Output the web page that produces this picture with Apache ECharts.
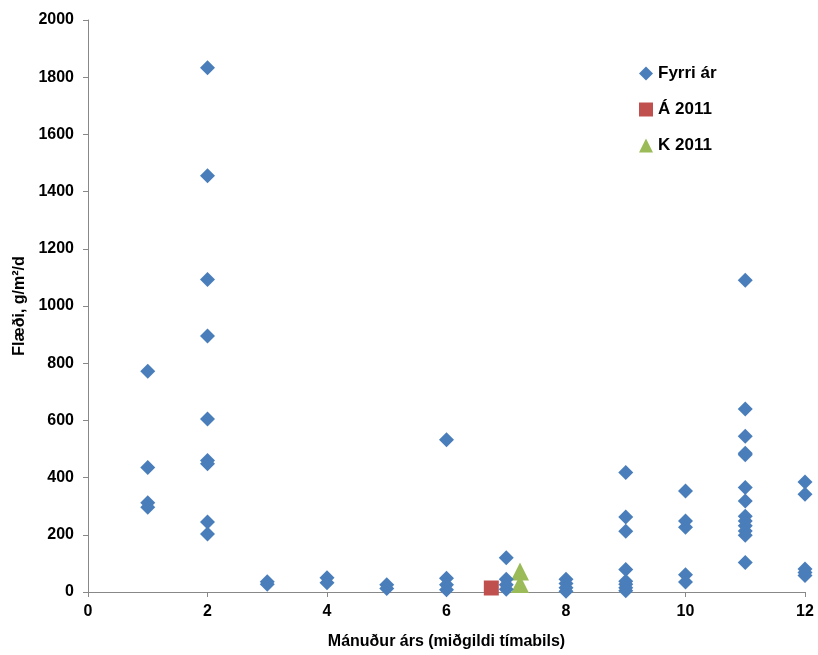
<!DOCTYPE html>
<html>
<head>
<meta charset="utf-8">
<script src="https://cdn.jsdelivr.net/npm/echarts@6/dist/echarts.min.js"></script>
<style>html,body{margin:0;padding:0;background:#fff}#c{width:818px;height:655px}</style>
</head>
<body>
<div id="c"></div>
<script>
// Fyrri ár (previous years): month, flux
var prevMonths = [1,1,1,1, 2,2,2,2,2,2,2,2,2, 3,3, 4,4, 5,5, 6,6,6,6, 7,7,7,7, 8,8,8,8, 9,9,9,9,9,9,9,9, 10,10,10,10,10, 11,11,11,11,11,11,11,11,11,11,11,11,11, 12,12,12,12,12];
var prevValues = [772,435,312,296, 1833,1455,1093,895,605,460,448,245,203, 36,27, 50,32, 25,12, 532,48,25,8, 120,45,25,10, 45,30,15,3, 418,262,212,79,38,27,15,4, 353,248,226,60,35, 1090,640,545,485,480,365,318,265,248,232,213,198,103, 385,342,80,68,58];
// Á 2011
var aMonths = [6.75];
var aValues = [14];
// K 2011
var kMonths = [7.23, 7.23];
var kValues = [72, 28];
var xTicks = [0,2,4,6,8,10,12];
var yTicks = [0,200,400,600,800,1000,1200,1400,1600,1800,2000];

function pairs(xs, ys){ return xs.map(function(x,i){return [x, ys[i]];}); }

var font = "'Liberation Sans', Arial, sans-serif";
var chart = echarts.init(document.getElementById('c'), null, {renderer:'canvas'});
chart.setOption({
  animation:false,
  backgroundColor:'#fff',
  grid:{left:88, right:13, top:20, bottom:62, containLabel:false},
  legend:{
    orient:'vertical', left:634, top:60, itemGap:19, itemWidth:14, itemHeight:14,
    textStyle:{fontFamily:font, fontWeight:'bold', fontSize:17, color:'#000'},
    data:[
      {name:'Fyrri ár', icon:'diamond'},
      {name:'Á 2011', icon:'rect'},
      {name:'K 2011', icon:'triangle'}
    ]
  },
  xAxis:{
    type:'value', min:xTicks[0], max:xTicks[xTicks.length-1], interval:2,
    name:'Mánuður árs (miðgildi tímabils)', nameLocation:'middle', nameGap:42,
    nameTextStyle:{fontFamily:font, fontWeight:'bold', fontSize:16, color:'#000'},
    axisLine:{show:true, lineStyle:{color:'#888', width:1}},
    axisTick:{show:true, inside:false, length:5, lineStyle:{color:'#888'}},
    axisLabel:{fontFamily:font, fontWeight:'bold', fontSize:16, color:'#000', margin:12,
      formatter:function(v){return String(v);}},
    splitLine:{show:false}
  },
  yAxis:{
    type:'value', min:yTicks[0], max:yTicks[yTicks.length-1], interval:200,
    name:'Flæði, g/m²/d', nameLocation:'middle', nameGap:60, nameRotate:90,
    nameTextStyle:{fontFamily:font, fontWeight:'bold', fontSize:16, color:'#000'},
    axisLine:{show:true, lineStyle:{color:'#888', width:1}},
    axisTick:{show:true, inside:false, length:5, lineStyle:{color:'#888'}},
    axisLabel:{fontFamily:font, fontWeight:'bold', fontSize:16, color:'#000', margin:14,
      formatter:function(v){return String(v);}},
    splitLine:{show:false}
  },
  series:[
    {name:'Fyrri ár', type:'scatter', symbol:'diamond', symbolSize:15,
     itemStyle:{color:'#4a7ebb', opacity:1}, data:pairs(prevMonths, prevValues), z:3},
    {name:'Á 2011', type:'scatter', symbol:'rect', symbolSize:15,
     itemStyle:{color:'#c0504d', opacity:1}, data:pairs(aMonths, aValues), z:2},
    {name:'K 2011', type:'scatter', symbol:'triangle', symbolSize:18,
     itemStyle:{color:'#9bbb59', opacity:1}, data:pairs(kMonths, kValues), z:2}
  ]
});
</script>
</body>
</html>
